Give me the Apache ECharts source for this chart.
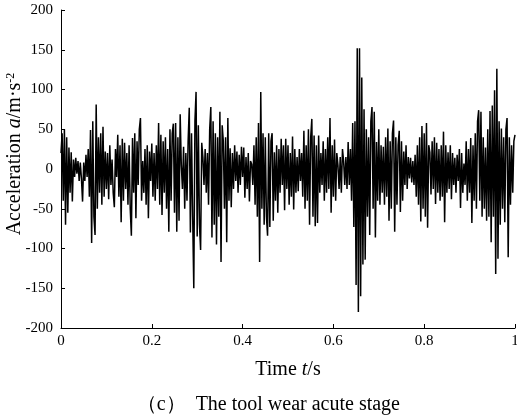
<!DOCTYPE html>
<html><head><meta charset="utf-8">
<script src="https://cdn.jsdelivr.net/npm/echarts@6/dist/echarts.min.js"></script>
<style>html,body{margin:0;padding:0;background:#fff}#c{width:517px;height:419px}</style>
</head><body><div id="c"></div>
<script>
// samples per second (time base of the recorded signal)
const sampleRate = 400;
// acceleration samples a (m/s^2), one line per 0.05 s
const acceleration = [
  20, 45, -40, 50, -70, 40, -55, 27, -30, 21, -41, 12, -10, 14, -6, 10, -15, 8, -12, -41,
  8, -15, 18, -10, 25, -35, 49, -93, 60, -60, -83, 81, -50, 40, -30, 45, -45, 53, -35, 22,
  -25, 20, -38, 30, -20, 12, -30, -48, 25, -10, 43, -35, 30, -67, 38, -40, 33, -25, 20, -45,
  30, -50, -84, 39, -30, 45, -62, 35, -20, 50, 64, -40, 10, -30, 25, -45, 30, -62, 22, -15,
  32, -35, 20, -40, 30, -25, 58, -45, 43, -58, 35, -30, 40, -50, 25, -79, 50, -40, 45, 57,
  -55, 58, -79, 40, -65, 69, 5, -25, 28, -50, 20, -40, 35, 77, -80, 45, -60, -150, 60, 97,
  -85, 55, -70, -102, 33, 15, -20, 25, -30, 20, -45, 50, 78, -86, 60, -70, 45, -95, 40, -60,
  72, -117, 55, 35, -50, 40, -92, 64, -40, 26, -48, 20, -25, 30, -15, 22, -30, 18, -20, 28,
  -10, 27, -36, 15, -25, 20, -41, 10, 6, -20, 30, -45, 40, -60, 58, -117, 97, -50, 45, -70,
  40, -60, -84, 45, -73, 35, 45, -65, 21, -40, 30, -55, 25, -30, 38, -20, 30, -52, 38, -25,
  30, -45, 20, -35, 41, -51, 25, -30, 15, -28, 25, -15, 20, -35, 48, -50, 30, -40, 50, -70,
  40, 63, -60, 42, -72, 30, -68, 42, -30, 20, -20, 35, -40, 25, -30, 40, -25, 64, -55, 30,
  -35, 37, -40, 20, 5, -25, 15, -30, 25, 10, -20, 15, -25, 34, -20, 25, -40, 58, -73, 60,
  -146, 152, -180, 152, -160, 115, -120, 75, -114, 50, -60, 40, -83, 60, 78, -50, 72, -86, 34, -40,
  50, -45, 30, -30, 28, -45, 40, -35, 51, -65, 35, -50, 45, 61, -79, 40, -45, 30, 48, -54,
  35, -40, 22, -20, 30, -25, 15, -12, 14, -17, 10, -20, 18, -35, 30, -45, 40, -66, 54, -50,
  45, -60, 58, -74, 30, 21, -32, 35, -25, 40, -44, 33, -30, 25, -40, 30, -35, 47, -67, 30,
  -30, 21, -25, 30, -38, 20, -20, 14, -30, 18, -15, 25, -49, 20, -30, 7, -20, 35, -40, 25,
  -30, 39, -68, 30, -40, 45, -50, 60, 74, -40, 72, -60, 40, -50, 27, -65, 50, -60, 73, -92,
  80, -60, 99, -132, 126, -113, 60, -70, 51, -50, 40, -67, 50, 64, -111, 40, -45, 30, -30, 35,
  43
];
const xMin = 0, xMax = 1, xStep = 0.2;
const yMin = -200, yMax = 200, yStep = 50;
const yTitle = ['Acceleration ', 'a', '/m·s', '-2'];
const xTitle = ['Time ', 't', '/s'];
const caption = '（c）  The tool wear acute stage';

const FONT = "'Liberation Serif','Times New Roman',serif";
const chart = echarts.init(document.getElementById('c'), null, {renderer: 'canvas'});
const seriesData = acceleration.map((v, i) => [i / sampleRate, v]);

function axisCommon() {
  return {
    axisLine: {show: true, onZero: false, lineStyle: {color: '#000', width: 1}},
    axisTick: {show: true, inside: true, length: 4, lineStyle: {color: '#000', width: 1}},
    splitLine: {show: false}
  };
}

chart.setOption({
  animation: false,
  backgroundColor: '#fff',
  grid: {left: 61, right: 2, top: 10, bottom: 91, containLabel: false, outerBoundsMode: 'none'},
  xAxis: Object.assign({
    type: 'value', min: xMin, max: xMax, interval: xStep,
    axisLabel: {color: '#000', fontFamily: FONT, fontSize: 15, margin: 6},
    name: xTitle[0] + '{i|' + xTitle[1] + '}' + xTitle[2],
    nameLocation: 'middle', nameGap: 32,
    nameTextStyle: {color: '#000', fontFamily: FONT, fontSize: 20,
      rich: {i: {fontStyle: 'italic', fontFamily: FONT, fontSize: 20, color: '#000'}}}
  }, axisCommon()),
  yAxis: Object.assign({
    type: 'value', min: yMin, max: yMax, interval: yStep,
    axisLabel: {color: '#000', fontFamily: FONT, fontSize: 15, margin: 8}
  }, axisCommon()),
  graphic: [
    {
      type: 'text', x: 15, y: 154, rotation: Math.PI / 2,
      style: {
        text: yTitle[0] + '{i|' + yTitle[1] + '}' + yTitle[2] + '{s|' + yTitle[3] + '}',
        font: '20px ' + FONT, fill: '#000', align: 'center', verticalAlign: 'middle',
        rich: {
          i: {fontStyle: 'italic', fontSize: 20, fontFamily: FONT, fill: '#000'},
          s: {fontSize: 12, fontFamily: FONT, fill: '#000', verticalAlign: 'top', padding: [0, 0, 8, 0]}
        }
      }
    },
    {
      type: 'text', x: 400, y: 405,
      style: {text: caption, font: '20px ' + FONT, fill: '#000', align: 'right', verticalAlign: 'middle'}
    }
  ],
  series: [{
    type: 'line', data: seriesData, showSymbol: false, silent: true,
    lineStyle: {color: '#000', width: 1.5}
  }]
});
</script>
</body></html>
